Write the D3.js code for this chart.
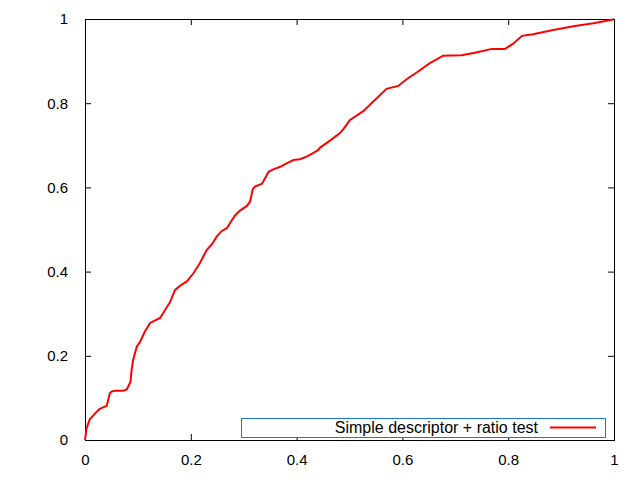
<!DOCTYPE html>
<html><head><meta charset="utf-8">
<script src="https://cdn.jsdelivr.net/npm/d3@7"></script>
<style>body{margin:0;background:#fff}</style>
</head><body>
<script>
const xValues = [0,0.003,0.009,0.025,0.028,0.041,0.047,0.050,0.057,0.072,0.079,0.086,0.088,0.091,0.098,0.104,0.113,0.123,0.142,0.161,0.170,0.180,0.192,0.205,0.217,0.230,0.240,0.249,0.258,0.268,0.274,0.284,0.293,0.306,0.312,0.317,0.321,0.334,0.337,0.347,0.356,0.369,0.381,0.394,0.406,0.419,0.432,0.441,0.444,0.463,0.482,0.488,0.501,0.526,0.545,0.570,0.592,0.608,0.627,0.652,0.677,0.712,0.737,0.769,0.794,0.810,0.826,0.847,0.885,0.923,0.961,0.996,1];
const yValues = [0,0.028,0.049,0.071,0.074,0.081,0.111,0.115,0.117,0.117,0.120,0.138,0.166,0.190,0.222,0.233,0.257,0.278,0.290,0.328,0.356,0.367,0.376,0.396,0.420,0.451,0.465,0.483,0.496,0.503,0.515,0.534,0.545,0.556,0.566,0.595,0.602,0.608,0.614,0.637,0.643,0.649,0.657,0.665,0.667,0.673,0.682,0.689,0.694,0.711,0.729,0.738,0.760,0.781,0.804,0.834,0.841,0.857,0.873,0.895,0.913,0.914,0.920,0.929,0.929,0.942,0.960,0.964,0.974,0.983,0.990,0.998,1];
const xTicks = [0,0.2,0.4,0.6,0.8,1];
const yTicks = [0,0.2,0.4,0.6,0.8,1];
const seriesName = "Simple descriptor + ratio test";

const W=640,H=480;
const L=85,R=614,T=19,B=440;
const svg=d3.select("body").append("svg").attr("width",W).attr("height",H)
  .style("font-family","'Liberation Sans', Arial, sans-serif");
const x=d3.scaleLinear().domain([0,1]).range([L,R]);
const y=d3.scaleLinear().domain([0,1]).range([B,T]);
const fmt=d=>String(+d.toFixed(1));
const tl=6;

function styleAxis(g){
  g.select(".domain").remove();
  g.selectAll(".tick line").attr("stroke","#000").attr("stroke-width",1);
  g.selectAll(".tick text").attr("fill","#000").style("font-size","15px");
}
svg.append("g").attr("transform",`translate(0,${B})`)
  .call(d3.axisBottom(x).tickValues(xTicks).tickFormat(fmt).tickSizeInner(-tl).tickPadding(14))
  .call(styleAxis);
svg.append("g").attr("transform",`translate(0,${T})`)
  .call(d3.axisTop(x).tickValues(xTicks).tickFormat("").tickSizeInner(-tl))
  .call(styleAxis);
svg.append("g").attr("transform",`translate(${L},0)`)
  .call(d3.axisLeft(y).tickValues(yTicks).tickFormat(fmt).tickSizeInner(-tl).tickPadding(17))
  .call(styleAxis);
svg.append("g").attr("transform",`translate(${R},0)`)
  .call(d3.axisRight(y).tickValues(yTicks).tickFormat("").tickSizeInner(-tl))
  .call(styleAxis);

svg.append("rect").attr("x",L+0.5).attr("y",T+0.5).attr("width",R-L).attr("height",B-T)
  .attr("fill","none").attr("stroke","#000").attr("stroke-width",1);

const data=xValues.map((v,i)=>[v,yValues[i]]);
svg.append("path").datum(data)
  .attr("fill","none").attr("stroke","#ff0000").attr("stroke-width",2)
  .attr("d",d3.line().x(d=>x(d[0])).y(d=>y(d[1])));

// legend
const lg=svg.append("g");
lg.append("rect").attr("x",241.5).attr("y",418.5).attr("width",364).attr("height",19)
  .attr("fill","#fff").attr("stroke","#1e78d2").attr("stroke-width",1);
lg.append("text").attr("x",538).attr("y",432.5).attr("text-anchor","end")
  .style("font-size","16px").attr("fill","#000").text(seriesName);
lg.append("line").attr("x1",550).attr("x2",596).attr("y1",427.5).attr("y2",427.5)
  .attr("stroke","#ff0000").attr("stroke-width",2);
</script>
</body></html>
